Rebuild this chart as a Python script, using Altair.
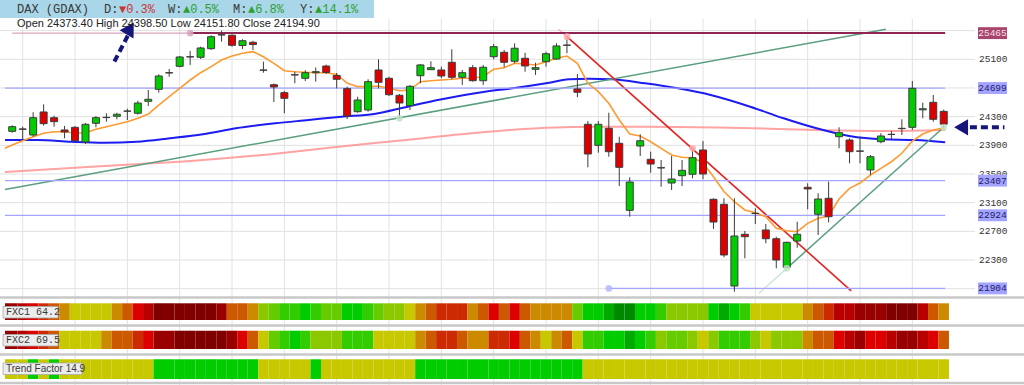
import altair as alt
import pandas as pd

# ---------------- data ----------------
opens = [24095, 24128, 24044, 24365, 24285, 24114, 24151, 23946, 24207, 24291,
         24305, 24379, 24347, 24514, 24681, 24913, 25002, 25136, 25128, 25248,
         25443, 25435, 25292, 25337, 24951, 24745, 24634, 24885, 24835, 24913,
         25006, 24874, 24690, 24369, 24393, 24951, 24835, 24598, 24453, 24871,
         24955, 24951, 25058, 24849, 24983, 24801, 25136, 25198, 25072, 25114,
         24960, 25066, 25104, 25299, 24686, 24193, 23900, 24137, 23928, 22993,
         23890, 23705, 23588, 23374, 23476, 23496, 23835, 23147, 23077, 21937,
         22659, 22952, 22719, 22597, 22198, 22565, 23314, 22938, 23161, 24020,
         23974, 23821, 23556, 23950, 24054, 24137, 24151, 24395, 24500, 24373.4]
closes = [24160, 24124, 24285, 24202, 24230, 24086, 23964, 24193, 24285, 24287,
          24333, 24375, 24490, 24542, 24867, 24909, 25132, 25132, 25258, 25415,
          25439, 25295, 25359, 25306, 24947, 24714, 24556, 24881, 24913, 24927,
          24916, 24821, 24309, 24532, 24788, 24779, 24606, 24490, 24723, 25021,
          24983, 24867, 24849, 24913, 24801, 24989, 25276, 25058, 25254, 25007,
          24983, 25178, 25286, 25295, 24640, 23779, 24193, 23811, 23593, 23388,
          23964, 23639, 23584, 23430, 23551, 23727, 23500, 22830, 22370, 22635,
          22625, 22948, 22597, 22300, 22547, 22659, 23291, 23151, 22904, 24076,
          23811, 23817, 23741, 24030, 24050, 24133, 24695, 24410, 24263, 24194.9]
highs = [24179, 24160, 24361, 24472, 24313, 24170, 24170, 24211, 24309, 24347,
         24355, 24411, 24522, 24672, 24891, 24965, 25146, 25216, 25276, 25435,
         25499, 25449, 25379, 25359, 25067, 24762, 24658, 24927, 24947, 24986,
         25025, 24909, 24718, 24578, 24821, 25100, 24857, 24616, 24742, 25034,
         25072, 24997, 25240, 24951, 25021, 25021, 25313, 25230, 25323, 25192,
         25053, 25206, 25323, 25415, 24895, 24239, 24239, 24355, 24020, 23454,
         24054, 23811, 23695, 23751, 23695, 23858, 23960, 23161, 23161, 23161,
         22705, 23021, 22802, 22625, 22555, 22834, 23370, 23231, 23393, 24151,
         23998, 24020, 23765, 24068, 24100, 24263, 24797, 24495, 24602, 24398.5]
lows = [24076, 23980, 24020, 24174, 24160, 23998, 23946, 23918, 24151, 24230,
        24263, 24253, 24327, 24449, 24634, 24857, 24988, 25021, 25104, 25230,
        25346, 25276, 25244, 25230, 24913, 24504, 24347, 24765, 24797, 24788,
        24895, 24695, 24267, 24355, 24369, 24695, 24588, 24277, 24393, 24765,
        24951, 24835, 24821, 24742, 24788, 24742, 25100, 24988, 25044, 24927,
        24881, 24997, 25090, 25184, 24570, 23593, 23797, 23741, 23332, 22904,
        23751, 23518, 23322, 23277, 23332, 23440, 23426, 22733, 22338, 21858,
        22324, 22802, 22533, 22184, 22184, 22472, 23008, 22649, 22826, 23858,
        23649, 23649, 23486, 23928, 23984, 24044, 24114, 24277, 24230, 24151.8]

# fast moving average (orange), one value per candle plus the left edge
orange_x = [-0.69] + list(range(90))
orange_y = [23858,
            23904, 23964, 24020, 24068, 24090, 24090, 24068, 24076, 24123, 24160,
            24193, 24230, 24277, 24337, 24462, 24578, 24695, 24811, 24913, 24997,
            25090, 25146, 25184, 25206, 25136, 25044, 24941, 24927, 24919, 24913,
            24913, 24888, 24769, 24718, 24718, 24728, 24695, 24662, 24672, 24788,
            24801, 24811, 24821, 24835, 24835, 24860, 24961, 24983, 25044, 25034,
            25021, 25067, 25114, 25146, 25044, 24765, 24648, 24486, 24253, 24058,
            24030, 23950, 23858, 23765, 23733, 23727, 23658, 23462, 23256, 23113,
            22998, 22960, 22904, 22742, 22709, 22695, 22812, 22882, 22914, 23151,
            23300, 23374, 23486, 23579, 23671, 23789, 23960, 24058, 24114, 24142]

# slow moving average (blue)
blue_x = [-0.69, 2.46, 5.62, 8.77, 11.91, 15.07, 18.22, 21.37, 25.12, 28.31,
          31.46, 34.58, 37.77, 40.92, 45.17, 47.82, 51.0, 53.21, 55.1, 57.28,
          60.46, 63.61, 66.73, 70.51, 73.7, 76.85, 79.97, 83.16, 86.31, 89.14]
blue_y = [23974, 23974, 23950, 23936, 23950, 23998, 24054, 24137, 24207, 24253,
          24299, 24337, 24439, 24539, 24648, 24695, 24765, 24821, 24829, 24821,
          24765, 24695, 24602, 24439, 24277, 24137, 24030, 23984, 23974, 23942]

# long moving average (pink)
pink_x = [-0.69, 8.77, 18.22, 25.79, 30.51, 37.13, 45.17, 51.01, 56.04, 60.77,
          67.39, 76.85, 83.16, 89.14]
pink_y = [23528, 23611, 23695, 23793, 23870, 23967, 24086, 24144, 24160, 24160,
          24149, 24114, 24100, 24114]

# straight segments: trend lines and horizontal levels
seg_x1 = [-0.69, 71.34, 74, 52.2, 53, 0, 17, -0.69, -0.69, -0.69, 57]
seg_p1 = [23285, 21835, 22184, 25519, 25415, 25465, 25465, 24699, 23407, 22924, 21904]
seg_x2 = [83.47, 74, 89, 53, 80.16, 17, 89.14, 89.14, 89.14, 89.14, 89.14]
seg_p2 = [25518, 22184, 24152, 25415, 21870, 25465, 25465, 24699, 23407, 22924, 21904]
seg_col = ["#5a9f80", "#cfe8d8", "#5a9f80", "#ffb4b4", "#e42222", "#cc90aa",
           "#8e2552", "#a4a4ff", "#a4a4ff", "#a4a4ff", "#a4a4ff"]
seg_w = [1.5, 1.5, 1.5, 1.5, 1.6, 1, 2, 1.2, 1.2, 1.2, 1.2]

# anchor dots
dot_x = [17, 53, 65, 57, 37, 74, 89]
dot_p = [25465, 25415, 23858, 21904, 24277, 22184, 24152]
dot_col = ["#d9a3bd", "#ffaaaa", "#ffaaaa", "#b4b8ff", "#c0e4c8", "#c0e4c8", "#c0e4c8"]

# level labels on the right
level_vals = [25465, 24699, 23407, 22924, 21904]
level_txt = ["25465", "24699", "23407", "22924", "21904"]
level_bg = ["#a8456c", "#a4a4ff", "#a4a4ff", "#a4a4ff", "#a4a4ff"]
level_fg = ["#f6e0ea", "#20206a", "#20206a", "#20206a", "#20206a"]

# price grid / tick labels
grid_vals = [25500, 25100, 24700, 24300, 23900, 23500, 23100, 22700, 22300, 21900]
tick_vals = [25100, 24300, 23900, 23500, 23100, 22700, 22300]
tick_txt = ["25100", "24300", "23900", "23500", "23100", "22700", "22300"]
vgrid = [1, 6, 11, 16, 21, 26, 31, 36, 41, 46, 51, 56, 61, 66, 71, 76, 81, 86]

# indicator strips (colour level per candle)
fxc1 = [-6, -5, -4, -3, -2, -1, 0, 0, 0, 0,
        -1, -2, -4, -5, -7, -7, -7, -7, -7, -7,
        -6, -2, -2, -1, 1, 2, 3, 3, 4, 3,
        2, 2, 4, 4, 3, 2, 1, 1, 0, -1,
        -2, -3, -3, -3, -1, -2, -4, -2, -4, -2,
        -1, -1, -1, -1, 2, 4, 4, 5, 6, 6,
        4, 4, 3, 1, 1, 1, 1, 4, 5, 4,
        3, 0, 0, 0, 0, 0, -1, -2, -3, -5,
        -5, -6, -6, -6, -7, -7, -7, -5, -2, -1]
fxc2 = [-6, -5, -4, -3, -2, 0, 0, 0, 0, -1,
        -2, -2, -3, -4, -6, -6, -7, -7, -7, -7,
        -7, -6, -4, -2, 0, 2, 3, 4, 3, 1,
        1, 1, 3, 3, 3, 0, 0, 0, 0, -1,
        -2, -3, -3, -2, -1, -1, -3, -3, -4, -2,
        -1, 0, -1, -2, 0, 3, 3, 4, 4, 5,
        4, 3, 1, 2, 2, 1, 0, 1, 3, 3,
        3, 1, 0, 1, 1, 1, -1, -2, -2, -4,
        -5, -6, -4, -4, -5, -6, -6, -5, -4, -2]
trend = [0, 0, 4, 0, 4, 0, 0, 0, 0, 0,
         0, 0, 0, 0, 4, 4, 4, 4, 4, 4,
         4, 4, 4, 4, 0, 0, 0, 0, 0, 4,
         0, 0, 0, 0, 0, 0, 0, 0, 0, 4,
         4, 4, 4, 4, 4, 4, 4, 4, 4, 4,
         4, 4, 4, 4, 4, 0, 0, 0, 0, 0,
         0, 0, 0, 0, 0, 0, 0, 0, 0, 0,
         0, 0, 0, 0, 0, 0, 0, 0, 0, 0,
         0, 0, 0, 0, 0, 0, 0, 0, 0, 0]
level_codes = [-7, -6, -5, -4, -3, -2, -1, 0, 1, 2, 3, 4, 5, 6]
level_hex = ["#800000", "#990000", "#b80000", "#dd0000", "#cc2a00", "#cc5800",
             "#cc8a00", "#c8c800", "#8cc800", "#66cc00", "#33cc00", "#00cc00",
             "#00aa00", "#008800"]

header_txt = ["DAX (GDAX)", "D:", "▼0.3%", "W:", "▲0.5%", "M:", "▲6.8%", "Y:", "▲14.1%"]
header_px = [17, 104, 119, 168, 183, 233, 248, 300, 315]
header_col = ["#3a3a3a", "#3a3a3a", "#cc3333", "#3a3a3a", "#2ea02e", "#3a3a3a",
              "#2ea02e", "#3a3a3a", "#2ea02e"]
ohlc_text = "Open 24373.40 High 24398.50 Low 24151.80 Close 24194.90"

arrow_x1 = [9.76, 91.5]
arrow_p1 = [25069, 24151]
arrow_x2 = [11.08, 94.8]
arrow_p2 = [25439, 24151]
head_x = [11.27, 90.66]
head_p = [25530, 24151]
head_shape = ["triangle-up", "triangle-left"]
head_angle = [31, 0]

# ---------------- chart ----------------
W, H = 975, 277
xsc = alt.Scale(domain=[-0.69, 91.51], nice=False, zero=False)
ysc = alt.Scale(domain=[21798, 25662], nice=False, zero=False)


def X(f):
    return alt.X(f, type="quantitative", scale=xsc, axis=None)


def Y(f):
    return alt.Y(f, type="quantitative", scale=ysc, axis=None)


one = pd.DataFrame({"k": [0]})
layers = []

# horizontal grid
layers.append(
    alt.Chart(pd.DataFrame({"p": grid_vals})).mark_rule(color="#e0e0e0", strokeWidth=1).encode(
        x=alt.value(0), x2=alt.value(975), y=Y("p"))
)
# vertical grid
layers.append(
    alt.Chart(pd.DataFrame({"g": vgrid})).mark_rule(color="#e2e2e2", strokeWidth=1).encode(
        x=X("g"), y=alt.value(0), y2=alt.value(366))
)
# tick labels
layers.append(
    alt.Chart(pd.DataFrame({"p": tick_vals, "t": tick_txt})).mark_text(
        font="Liberation Mono", fontSize=9.5, color="#333333", align="left", baseline="middle").encode(
        x=alt.value(979), y=Y("p"), text="t:N")
)

# separators
sep_y = [278.5, 306.5, 335.5, 364]
for sy in sep_y:
    layers.append(alt.Chart(one).mark_rule(color="#c8c8c8", strokeWidth=2.5).encode(
        x=alt.value(0), x2=alt.value(1024), y=alt.value(sy)))

# moving averages
layers.append(alt.Chart(pd.DataFrame({"x": pink_x, "p": pink_y})).mark_line(
    color="#ff8c8c", strokeWidth=2, opacity=0.8, interpolate="monotone").encode(x=X("x"), y=Y("p")))
layers.append(alt.Chart(pd.DataFrame({"x": blue_x, "p": blue_y})).mark_line(
    color="#1c1cf2", strokeWidth=2, interpolate="monotone").encode(x=X("x"), y=Y("p")))

# level & trend segments
segs = pd.DataFrame({"x1": seg_x1, "p1": seg_p1, "x2": seg_x2, "p2": seg_p2,
                     "col": seg_col, "w": seg_w})
layers.append(alt.Chart(segs).mark_rule().encode(
    x=X("x1"), y=Y("p1"), x2="x2", y2="p2",
    color=alt.Color("col:N", scale=None), strokeWidth=alt.StrokeWidth("w:Q", scale=None)))

layers.append(alt.Chart(pd.DataFrame({"x": orange_x, "p": orange_y})).mark_line(
    color="#ff9a30", strokeWidth=1.6).encode(x=X("x"), y=Y("p")))

# candles
cdf = pd.DataFrame({"i": list(range(len(opens))), "o": opens, "h": highs, "l": lows, "c": closes})
layers.append(alt.Chart(cdf).mark_rule(color="#3c3c3c", strokeWidth=1).encode(
    x=X("i"), y=Y("l"), y2="h"))
layers.append(alt.Chart(cdf).mark_bar(size=7, stroke="#3c3c3c", strokeWidth=1).encode(
    x=X("i"), y=Y("o"), y2="c",
    color=alt.condition("datum.c >= datum.o", alt.value("#00cc00"), alt.value("#dd0000"))))

# dots
layers.append(alt.Chart(pd.DataFrame({"x": dot_x, "p": dot_p, "col": dot_col})).mark_circle(
    size=45, opacity=0.85).encode(x=X("x"), y=Y("p"), color=alt.Color("col:N", scale=None)))

# arrows
layers.append(alt.Chart(pd.DataFrame({"x1": arrow_x1, "p1": arrow_p1, "x2": arrow_x2, "p2": arrow_p2}))
              .mark_rule(color="#16167a", strokeWidth=4, strokeDash=[7, 4]).encode(
    x=X("x1"), y=Y("p1"), x2="x2", y2="p2"))
layers.append(alt.Chart(pd.DataFrame({"x": head_x, "p": head_p, "s": head_shape, "a": head_angle}))
              .mark_point(filled=True, color="#16167a", size=260, opacity=1).encode(
    x=X("x"), y=Y("p"), shape=alt.Shape("s:N", scale=None), angle=alt.Angle("a:Q", scale=None)))

# level labels
box_path = "M-1,-0.41L1,-0.41L1,0.41L-1,0.41Z"
ldf = pd.DataFrame({"p": level_vals, "t": level_txt, "bg": level_bg, "fg": level_fg})
layers.append(alt.Chart(ldf).mark_point(shape=box_path, filled=True, size=841, opacity=1).encode(
    x=alt.value(992.5), y=Y("p"), color=alt.Color("bg:N", scale=None)))
layers.append(alt.Chart(ldf).mark_text(font="Liberation Mono", fontSize=9.5, baseline="middle",
                                       align="center").encode(
    x=alt.value(992.5), y=Y("p"), text="t:N", color=alt.Color("fg:N", scale=None)))

# indicator strips
code_to_hex = dict(zip(level_codes, level_hex))
sdf = pd.DataFrame({"i": list(range(len(fxc1))),
                    "c1": [code_to_hex[v] for v in fxc1],
                    "c2": [code_to_hex[v] for v in fxc2],
                    "c3": [code_to_hex[v] for v in trend]})
strip_rows = [("c1", 284.3, 301), ("c2", 311.7, 330), ("c3", 340.3, 360)]
for col, y1, y2 in strip_rows:
    layers.append(alt.Chart(sdf).mark_rect().encode(
        x=alt.X("x0:Q", scale=xsc, axis=None), x2="x1:Q",
        y=alt.value(y1), y2=alt.value(y2),
        color=alt.Color(col + ":N", scale=None)).transform_calculate(
        x0="datum.i == 0 ? -0.69 : datum.i - 0.5", x1="datum.i + 0.5"))

# strip name boxes
box_specs = [("FXC1 64.2", 58, 287.5, 299, "Liberation Mono", 10),
             ("FXC2 69.5", 58, 315.5, 327, "Liberation Mono", 10),
             ("Trend Factor 14.9", 82, 344, 355.5, "Liberation Sans", 10)]
for txt, xr, yb1, yb2, fnt, fs in box_specs:
    layers.append(alt.Chart(one).mark_rect(fill="#ececec", stroke="#a8a8a8", strokeWidth=0.8).encode(
        x=alt.value(3), x2=alt.value(xr), y=alt.value(yb1), y2=alt.value(yb2)))
    layers.append(alt.Chart(one).mark_text(text=txt, font=fnt, fontSize=fs, align="left",
                                           baseline="middle", color="#3a3a3a").encode(
        x=alt.value(6), y=alt.value((yb1 + yb2) / 2)))

# header
layers.append(alt.Chart(one).mark_rect(color="#a9d6e8").encode(
    x=alt.value(0), x2=alt.value(374), y=alt.value(-19), y2=alt.value(-1)))
for t, px, colr in zip(header_txt, header_px, header_col):
    layers.append(alt.Chart(one).mark_text(text=t, font="Liberation Mono", fontSize=12,
                                           align="left", baseline="middle", color=colr).encode(
        x=alt.value(px), y=alt.value(-10)))
layers.append(alt.Chart(one).mark_text(text=ohlc_text, font="Liberation Sans", fontSize=11,
                                       align="left", baseline="middle", color="#222222").encode(
    x=alt.value(17), y=alt.value(5)))

chart = alt.layer(*layers).properties(
    width=W, height=H,
    padding={"left": 0, "top": 19, "right": 49, "bottom": 89},
    autosize=alt.AutoSizeParams(type="none"),
    background="white",
).configure_view(stroke=None)

chart.save("out.html", embed_options={"renderer": "svg", "actions": False})
